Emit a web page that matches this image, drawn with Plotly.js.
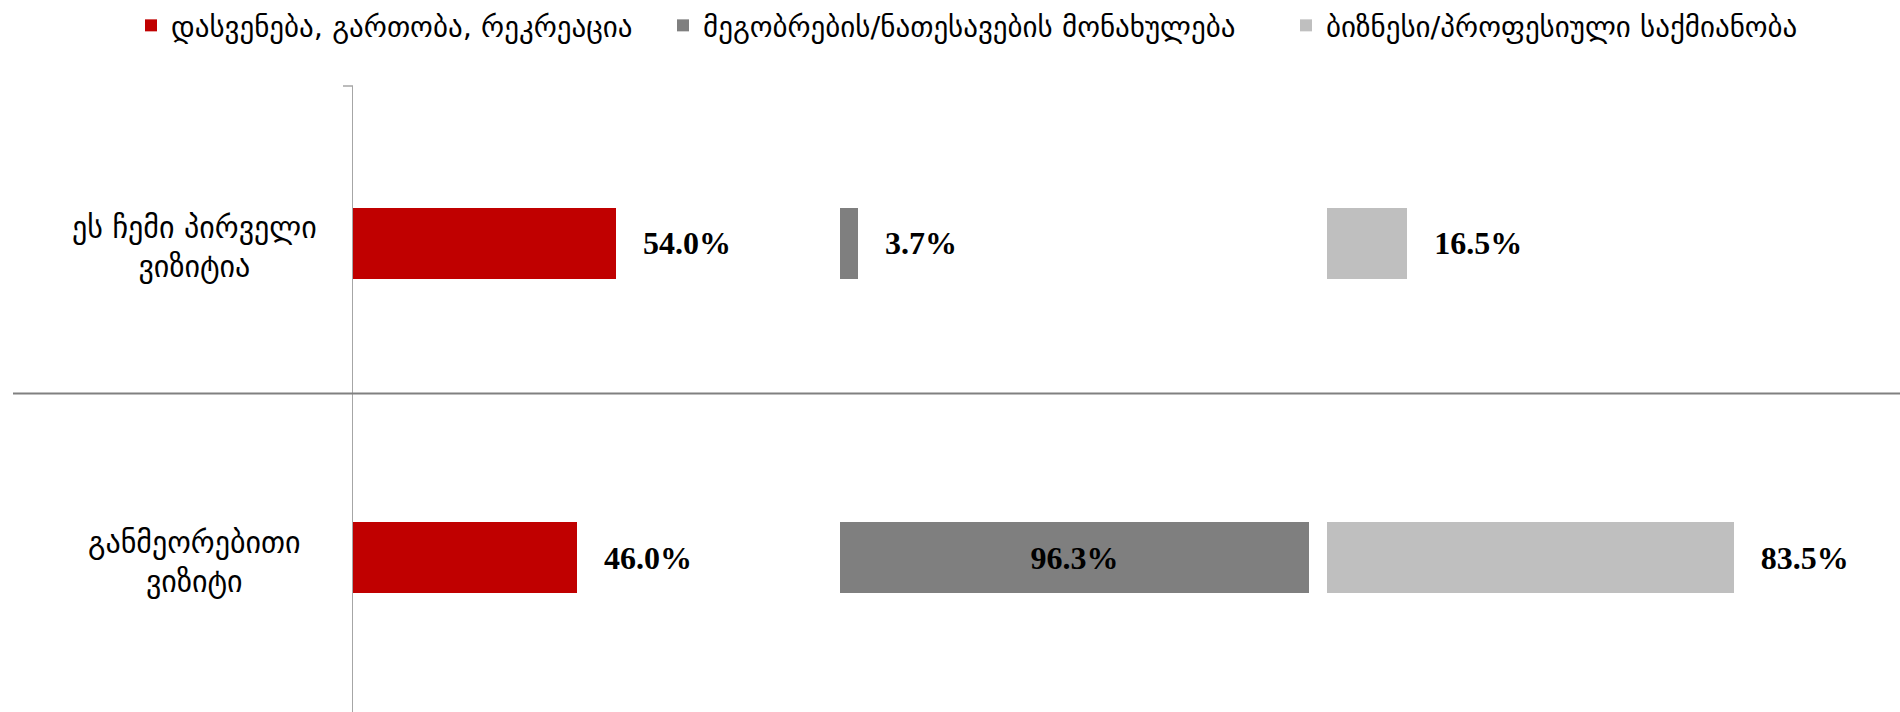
<!DOCTYPE html>
<html>
<head>
<meta charset="utf-8">
<script src="https://cdn.plot.ly/plotly-3.0.1.min.js"></script>
<style>html,body{margin:0;padding:0;background:#fff;}</style>
</head>
<body>
<div id="chart" style="width:1900px;height:712px;"></div>
<script>
// Categories (bottom to top)
const categories = ["განმეორებითი<br>ვიზიტი", "ეს ჩემი პირველი<br>ვიზიტია"];
// Series names
const seriesNames = [
  "დასვენება, გართობა, რეკრეაცია",
  "მეგობრების/ნათესავების მონახულება",
  "ბიზნესი/პროფესიული საქმიანობა"
];
// Series values (%), same order as categories
const leisure = [46.0, 54.0];
const friends = [96.3, 3.7];
const business = [83.5, 16.5];
const seriesColors = ["#C00000", "#7F7F7F", "#BFBFBF"];

(function () {
const allValues = [leisure, friends, business];
const axes = ["x", "x2", "x3"];
const legendIds = ["legend", "legend2", "legend3"];
const labelFont = {family: "Liberation Serif, Times New Roman, serif", size: 32, color: "#000"};
const pad = "\u00a0\u00a0\u00a0";

const traces = allValues.map((vals, i) => ({
  type: "bar",
  orientation: "h",
  name: seriesNames[i],
  legend: legendIds[i],
  x: vals,
  y: categories,
  xaxis: axes[i],
  yaxis: "y",
  width: 0.225,
  marker: {color: seriesColors[i]},
  text: vals.map(v => v.toFixed(1) + "%"),
  texttemplate: vals.map(v => v > 90 ? "<b>%{text}</b>" : pad + "<b>%{text}</b>"),
  textposition: vals.map(v => v > 90 ? "inside" : "outside"),
  insidetextanchor: "middle",
  textfont: labelFont,
  insidetextfont: labelFont,
  outsidetextfont: labelFont,
  constraintext: "none",
  cliponaxis: false,
  hoverinfo: "skip"
}));

const xbase = {range: [0, 100], visible: false, fixedrange: true};
const pL = 353, pR = 1814, pT = 85, pB = 712;
const pw = pR - pL, ph = pB - pT;

const annotations = categories.map(c => ({
  xref: "paper", yref: "y",
  x: (194 - pL) / pw, y: c,
  xanchor: "center", yanchor: "middle",
  yshift: -4,
  text: c, showarrow: false, align: "center",
  font: {family: "DejaVu Sans, sans-serif", size: 30, color: "#000"}
}));

// legend text start positions (px) in the reference
const legendTextX = [171, 703, 1326];
const legendFont = {family: "DejaVu Sans, sans-serif", size: 29, color: "#000"};
function mkLegend(px) {
  return {
    orientation: "h",
    x: (px - 40 - pL) / pw, xanchor: "left",
    y: 1 + (pT - 24) / ph, yanchor: "middle",
    font: legendFont,
    bgcolor: "rgba(0,0,0,0)",
    itemclick: false, itemdoubleclick: false
  };
}

const layout = {
  width: 1900, height: 712,
  margin: {l: pL, r: 1900 - pR, t: pT, b: 0, pad: 0},
  paper_bgcolor: "#fff", plot_bgcolor: "#fff",
  showlegend: true,
  legend: mkLegend(legendTextX[0]),
  legend2: mkLegend(legendTextX[1]),
  legend3: mkLegend(legendTextX[2]),
  bargap: 0,
  xaxis: Object.assign({domain: [0, 1/3]}, xbase),
  xaxis2: Object.assign({domain: [1/3, 2/3]}, xbase),
  xaxis3: Object.assign({domain: [2/3, 1]}, xbase),
  yaxis: {
    type: "category",
    categoryorder: "array",
    categoryarray: categories,
    range: [-0.49, 1.5],
    showticklabels: false,
    showgrid: false,
    zeroline: false,
    showline: true,
    linecolor: "#A6A6A6",
    linewidth: 1.5,
    ticks: "",
    fixedrange: true
  },
  shapes: [
    {type: "line", xref: "paper", yref: "paper",
     x0: -10 / pw, x1: 0, y0: 1, y1: 1,
     line: {color: "#A6A6A6", width: 1.5}},
    {type: "line", xref: "paper", yref: "paper",
     x0: (13 - pL) / pw, x1: (1900 - pL) / pw,
     y0: (pB - 393) / ph, y1: (pB - 393) / ph,
     line: {color: "#808080", width: 2}}
  ],
  annotations: annotations
};

Plotly.newPlot("chart", traces, layout, {displayModeBar: false, staticPlot: true});
})();
</script>
</body>
</html>
